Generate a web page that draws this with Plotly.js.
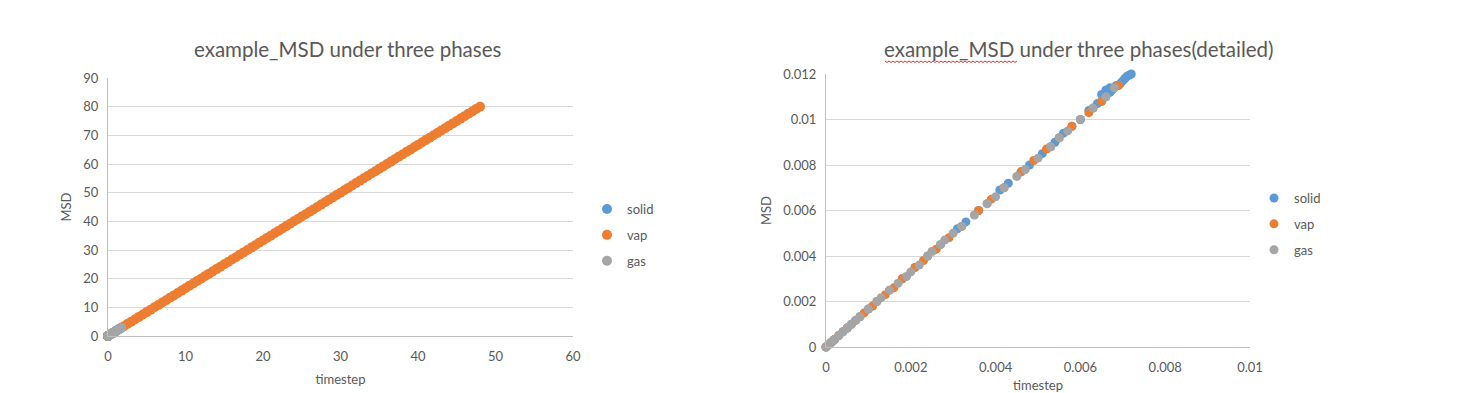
<!DOCTYPE html>
<html>
<head>
<meta charset="utf-8">
<script src="https://cdn.plot.ly/plotly-3.0.1.min.js"></script>
<style>html,body{margin:0;padding:0;background:#fff;}#chart{width:1479px;height:393px;}</style>
</head>
<body>
<div id="chart"></div>
<script>
// ---------- Data: overview chart ----------
const solid_t = [0, 0.0005, 0.001, 0.002, 0.003, 0.004, 0.005, 0.006, 0.007, 0.0072];
const solid_msd = [0, 0.0008, 0.0017, 0.0033, 0.005, 0.0067, 0.0083, 0.01, 0.0117, 0.012];
const vap_t = [0,0.5,1,1.5,2,2.5,3,3.5,4,4.5,5,5.5,6,6.5,7,7.5,8,8.5,9,9.5,10,10.5,11,11.5,12,12.5,13,13.5,14,14.5,15,15.5,16,16.5,17,17.5,18,18.5,19,19.5,20,20.5,21,21.5,22,22.5,23,23.5,24,24.5,25,25.5,26,26.5,27,27.5,28,28.5,29,29.5,30,30.5,31,31.5,32,32.5,33,33.5,34,34.5,35,35.5,36,36.5,37,37.5,38,38.5,39,39.5,40,40.5,41,41.5,42,42.5,43,43.5,44,44.5,45,45.5,46,46.5,47,47.5,48];
const vap_msd = [0,0.83,1.67,2.5,3.33,4.17,5,5.83,6.67,7.5,8.33,9.17,10,10.83,11.67,12.5,13.33,14.17,15,15.83,16.67,17.5,18.33,19.17,20,20.83,21.67,22.5,23.33,24.17,25,25.83,26.67,27.5,28.33,29.17,30,30.83,31.67,32.5,33.33,34.17,35,35.83,36.67,37.5,38.33,39.17,40,40.83,41.67,42.5,43.33,44.17,45,45.83,46.67,47.5,48.33,49.17,50,50.83,51.67,52.5,53.33,54.17,55,55.83,56.67,57.5,58.33,59.17,60,60.83,61.67,62.5,63.33,64.17,65,65.83,66.67,67.5,68.33,69.17,70,70.83,71.67,72.5,73.33,74.17,75,75.83,76.67,77.5,78.33,79.17,80];
const gas_t = [0,0.1,0.2,0.3,0.4,0.5,0.6,0.7,0.8,0.9,1.0,1.1,1.2,1.3,1.4,1.5,1.6,1.7];
const gas_msd = [0,0.17,0.33,0.5,0.67,0.83,1.0,1.17,1.33,1.5,1.67,1.83,2.0,2.17,2.33,2.5,2.67,2.83];

// ---------- Data: detailed chart ----------
const solid_dt = [0,0.00005,0.0001,0.00015,0.0002,0.0003,0.0004,0.0005,0.0006,0.0008,0.001,0.0012,0.0015,0.0018,0.0021,0.0024,0.0027,0.0031,0.0033,0.0036,0.0038,0.0041,0.0043,0.0046,0.0048,0.0051,0.0053,0.0054,0.0056,0.0058,0.006,0.0062,0.0063,0.0064,0.0065,0.0065,0.0066,0.0066,0.00665,0.0067,0.0067,0.00675,0.0068,0.00685,0.0069,0.00695,0.007,0.00705,0.0071,0.00715,0.0072];
const solid_dmsd = [0,0.00008,0.00017,0.00025,0.00033,0.0005,0.00067,0.00083,0.001,0.00133,0.00167,0.002,0.0025,0.003,0.0035,0.004,0.0045,0.0052,0.0055,0.006,0.0063,0.0069,0.0072,0.0077,0.008,0.0085,0.0088,0.009,0.0094,0.0097,0.01,0.0104,0.0105,0.0107,0.0108,0.0111,0.011,0.0113,0.0112,0.0112,0.0114,0.0113,0.0114,0.0115,0.0115,0.0116,0.0117,0.0118,0.0119,0.01195,0.012];
const vap_dt = [0,0.0001,0.0002,0.0003,0.0005,0.0007,0.0009,0.0011,0.0014,0.0016,0.0018,0.0021,0.0023,0.0026,0.0029,0.0032,0.0036,0.0039,0.0042,0.0046,0.0049,0.0052,0.0055,0.0058,0.0062,0.0065,0.0069];
const vap_dmsd = [0,0.00017,0.00033,0.0005,0.00083,0.00117,0.0015,0.0018,0.0023,0.0026,0.003,0.0035,0.0038,0.0043,0.0048,0.0053,0.006,0.0065,0.007,0.0077,0.0082,0.0087,0.0092,0.0097,0.0103,0.0108,0.0115];
const gas_dt = [0,0.00005,0.0001,0.00015,0.0002,0.0003,0.0004,0.0005,0.0006,0.0007,0.0008,0.001,0.0012,0.0013,0.0015,0.0017,0.0019,0.002,0.0022,0.0024,0.0025,0.0027,0.0028,0.003,0.0032,0.0035,0.0038,0.004,0.0042,0.0045,0.0047,0.005,0.0053,0.0055,0.0057,0.006,0.0063,0.0066,0.0068];
const gas_dmsd = [0,0.00008,0.00017,0.00025,0.00033,0.0005,0.00067,0.00083,0.001,0.00117,0.00133,0.00167,0.002,0.00217,0.0025,0.0028,0.0031,0.0033,0.0036,0.004,0.0042,0.0045,0.0047,0.005,0.0053,0.0058,0.0063,0.0066,0.007,0.0075,0.0078,0.0083,0.0088,0.0092,0.0095,0.01,0.0105,0.011,0.0114];

const names = ['solid', 'vap', 'gas'];
const colors = ['#5B9BD5', '#ED7D31', '#A5A5A5'];
const FONT = 'Lato, "Open Sans", sans-serif';
const W = 1479, H = 393;
const px = v => v / W, py = v => 1 - v / H;

function mk(x, y, i, xa, ya, leg, size) {
  return {x: x, y: y, type: 'scatter', mode: 'markers', name: names[i],
    xaxis: xa, yaxis: ya, legend: leg, legendgroup: leg + names[i], cliponaxis: false,
    marker: {color: colors[i], size: size, line: {width: 0}},
    hoverinfo: 'x+y+name'};
}

const data = [
  mk(solid_t, solid_msd, 0, 'x', 'y', 'legend', 10),
  mk(vap_t, vap_msd, 1, 'x', 'y', 'legend', 10),
  mk(gas_t, gas_msd, 2, 'x', 'y', 'legend', 10),
  mk(solid_dt, solid_dmsd, 0, 'x2', 'y2', 'legend2', 9),
  mk(vap_dt, vap_dmsd, 1, 'x2', 'y2', 'legend2', 9),
  mk(gas_dt, gas_dmsd, 2, 'x2', 'y2', 'legend2', 9)
];

const tickFont = {family: FONT, size: 13, color: '#595959'};
const titleFont = {family: FONT, size: 13, color: '#595959'};
function xax(dom, range, dtick, anchor, so) {
  return {domain: dom, range: range, dtick: dtick, tick0: 0, anchor: anchor,
    showgrid: false, zeroline: false, showline: true, linecolor: '#BFBFBF', linewidth: 1,
    ticks: '', tickfont: tickFont, ticklabelstandoff: 8,
    title: {text: 'timestep', font: titleFont, standoff: so}};
}
function yax(dom, range, dtick, anchor) {
  return {domain: dom, range: range, dtick: dtick, tick0: 0, anchor: anchor,
    showgrid: true, gridcolor: '#D9D9D9', gridwidth: 1, zeroline: false,
    showline: true, linecolor: '#BFBFBF', linewidth: 1,
    ticks: '', tickfont: tickFont, ticklabelstandoff: 6,
    title: {text: 'MSD', font: titleFont, standoff: 8}};
}

// red spell-check squiggle under "example_MSD" in the right title
let sq = '';
for (let xx = 885, k = 0; xx <= 1018; xx += 2, k++) {
  const yy = 61 + (k % 2 ? 1.5 : 0);
  sq += (k === 0 ? 'M' : 'L') + px(xx).toFixed(5) + ',' + py(yy).toFixed(5);
}

const legFont = {family: FONT, size: 13, color: '#595959'};
const layout = {
  width: W, height: H,
  margin: {l: 0, r: 0, t: 0, b: 0},
  paper_bgcolor: '#ffffff', plot_bgcolor: '#ffffff',
  font: {family: FONT, color: '#595959'},
  showlegend: true,
  xaxis: xax([px(108), px(573)], [0, 60], 10, 'y', 12),
  yaxis: yax([1 - 336 / H, 1 - 78 / H], [0, 90], 10, 'x'),
  xaxis2: xax([px(826), px(1250)], [0, 0.01], 0.002, 'y2', 7),
  yaxis2: yax([1 - 347 / H, 1 - 74 / H], [0, 0.012], 0.002, 'x2'),
  legend: {x: px(587), y: py(194), xanchor: 'left', yanchor: 'top', traceorder: 'grouped',
    tracegroupgap: 6, font: legFont, itemwidth: 30, bgcolor: 'rgba(0,0,0,0)'},
  legend2: {x: px(1254), y: py(183), xanchor: 'left', yanchor: 'top', traceorder: 'grouped',
    tracegroupgap: 6, font: legFont, itemwidth: 30, bgcolor: 'rgba(0,0,0,0)'},
  annotations: [
    {text: 'example_MSD under three phases', xref: 'paper', yref: 'paper',
     x: px(348), y: py(49), xanchor: 'center', yanchor: 'middle', showarrow: false,
     font: {family: FONT, size: 20.5, color: '#595959'}},
    {text: 'example_MSD under three phases(detailed)', xref: 'paper', yref: 'paper',
     x: px(1079), y: py(49), xanchor: 'center', yanchor: 'middle', showarrow: false,
     font: {family: FONT, size: 20.5, color: '#595959'}}
  ],
  shapes: [
    {type: 'path', xref: 'paper', yref: 'paper', path: sq, line: {color: '#E03030', width: 1}}
  ]
};

Plotly.newPlot('chart', data, layout, {displayModeBar: false, staticPlot: true});
</script>
</body>
</html>
